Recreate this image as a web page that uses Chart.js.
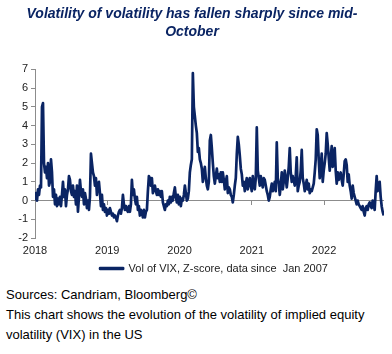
<!DOCTYPE html>
<html>
<head>
<meta charset="utf-8">
<script src="https://cdn.jsdelivr.net/npm/chart.js@4.4.0/dist/chart.umd.min.js"></script>
<style>
  body { margin: 0; background: #fff; font-family: "Liberation Sans", Arial, sans-serif; }
  #wrap { position: relative; width: 392px; height: 282px; }
  .notes { font-size: 13px; line-height: 20px; color: #000; padding-left: 6px; margin-top: 3px; }
</style>
</head>
<body>
<div id="wrap"><canvas id="vixChart"></canvas></div>
<div class="notes">Sources: Candriam, Bloomberg©<br>This chart shows the evolution of the volatility of implied equity<br>volatility (VIX) in the US</div>
<script>
// sampling of the series
const startYear = 2018;
const stepDays = 5.05;
const endYear = 2022.83;

// Z-score of the vol of VIX, one reading every stepDays from Jan 2018
const volOfVix = [
  0.4, 0.1, 0.0, 0.6, 0.3, 0.8, 0.7, 5.0, 5.2, 2.0,
  1.5, 1.8, 1.2, 2.0, 0.8, 1.0, 2.2, 1.5, 0.2, 0.6,
  -0.2, 0.3, -0.3, 0.1, -0.2, 0.2, -0.3, 0.3, 1.0, 0.2,
  0.6, -0.3, 0.3, 0.6, 1.3, 1.1, 0.5, 0.3, 0.8, 0.2,
  0.5, -0.2, 0.8, -0.6, 0.2, 1.1, 0.5, 0.2, 0.6, -0.2,
  0.4, 0.1, -0.4, 0.0, -0.5, 0.2, 2.5, 2.0, 1.5, 1.3,
  0.8, 1.2, 0.3, 0.9, 1.0, 0.4, -0.3, 0.3, -0.5, -0.2,
  -0.6, -0.4, -0.8, -0.5, -0.7, -0.4, -0.6, -0.8, -0.7, -0.9,
  -0.8, -0.9, -1.1, -0.8, -0.6, -0.5, -0.7, -0.4, 0.3, -0.2,
  -0.5, -0.3, -0.5, -0.6, -0.3, -0.6, -0.2, 1.1, 0.3, 0.6,
  0.1, -0.2, 0.2, -0.5, -0.3, -0.8, -0.5, -0.6, -0.9, -0.5,
  -0.9, -0.6, -0.5, 0.5, 1.3, 1.2, 0.8, 1.2, 0.4, 0.6,
  0.8, 0.5, 0.3, 0.6, 0.3, 0.5, 0.2, 0.5, -0.1, -0.3,
  -0.5, -0.2, -0.3, 0.0, -0.2, 0.2, -0.1, 0.2, 0.0, 0.4,
  0.7, 0.2, -0.1, 0.3, -0.2, 0.2, -0.3, 0.1, 0.0, 0.3,
  0.8, 0.4, 0.0, 0.1, 0.5, 1.5, 1.9, 2.2, 6.8, 5.0,
  4.5, 4.0, 3.6, 2.6, 2.8, 2.2, 2.0, 1.7, 1.0, 1.4,
  1.8, 1.2, 0.8, 0.6, 1.0, 3.2, 3.5, 2.8, 2.0, 1.3,
  0.9, 1.3, 1.7, 1.2, 1.4, 1.0, 1.5, 1.0, 1.5, 1.1,
  0.6, 1.0, 1.3, 0.4, 0.7, 0.6, 0.3, 0.2, -0.1, 0.3,
  0.8, 1.2, 2.5, 3.4, 3.0, 2.4, 1.7, 1.4, 0.8, 1.0,
  0.5, 0.9, 1.2, 0.6, 0.9, 1.2, 0.8, 0.5, 1.3, 0.9,
  0.6, 1.2, 3.9, 1.6, 1.2, 0.8, 1.3, 1.0, 0.7, 1.2,
  1.1, 0.8, 0.5, 0.3, 0.0, 0.2, 0.6, 0.9, 0.5, 0.7,
  1.0, 0.5, 3.1, 1.2, 0.9, 0.3, 0.8, 1.5, 0.6, 1.0,
  1.6, 1.2, 0.7, 1.2, 1.8, 2.8, 1.5, 1.0, 1.3, 1.1,
  0.8, 1.3, 2.3, 0.5, 0.8, 1.0, 1.6, 2.7, 1.2, 0.9,
  0.5, 0.8, 1.1, 0.6, 0.9, 0.4, 0.6, 0.5, 0.7, 0.9,
  1.5, 2.2, 3.8, 3.5, 2.2, 1.2, 1.8, 2.5, 1.0, 1.6,
  2.0, 2.5, 3.6, 3.0, 2.3, 1.6, 2.3, 2.9, 1.8, 2.2,
  2.8, 1.6, 0.9, 1.5, 1.1, 1.3, 1.5, 1.1, 0.8, 1.4,
  2.1, 2.2, 1.9, 1.0, 1.4, 0.8, 0.5, 0.1, 0.8, 0.4,
  0.2, 0.0, -0.2, 0.0, -0.2, -0.3, -0.4, -0.5, -0.3, -0.6,
  -0.8, -0.4, -0.3, -0.5, -0.2, -0.1, -0.3, -0.4, 0.0, -0.2,
  -0.5, 0.5, 1.3, 0.5, 0.9, 1.0, 0.2, -0.3, -0.6, -0.8
];

const yearTicks = [2018, 2019, 2020, 2021, 2022];
const zTicks = [-2, -1, 0, 1, 2, 3, 4, 5, 6, 7];

const navy = '#0a2463';
const axisGrey = '#8c8c8c';
const fontFamily = '"Liberation Sans", Arial, sans-serif';

const points = volOfVix.map((v, i) => ({ x: startYear + i * stepDays / 365.25, y: v }));

// legend sits a bit right of centre in the original
const nudgeLegend = {
  id: 'nudgeLegend',
  afterLayout(chart) {
    chart.legend.left += 22;
    chart.legend.right += 22;
    chart.legend.top += 2;
    chart.legend.bottom += 2;
  }
};

new Chart(document.getElementById('vixChart'), {
  type: 'line',
  data: {
    datasets: [{
      label: 'Vol of VIX, Z-score, data since  Jan 2007',
      data: points,
      borderColor: navy,
      backgroundColor: navy,
      borderWidth: 2.7,
      borderJoinStyle: 'round',
      pointRadius: 0,
      tension: 0
    }]
  },
  options: {
    responsive: true,
    maintainAspectRatio: false,
    animation: false,
    layout: { padding: { left: 0, right: 8, bottom: 0 } },
    plugins: {
      title: {
        display: true,
        text: ['Volatility of volatility has fallen sharply since mid-', 'October'],
        color: navy,
        font: { family: fontFamily, size: 14, weight: 'bold', style: 'italic', lineHeight: 1.3 },
        padding: { top: 5, bottom: 28 }
      },
      legend: {
        position: 'bottom',
        labels: {
          color: '#222',
          font: { family: fontFamily, size: 11 },
          boxWidth: 23,
          boxHeight: 1,
          padding: 2
        }
      },
      tooltip: { enabled: false }
    },
    scales: {
      x: {
        type: 'linear',
        min: startYear,
        max: endYear,
        afterBuildTicks: s => { s.ticks = yearTicks.map(v => ({ value: v })); },
        afterFit: s => { s.height = 21; },
        ticks: { color: '#222', font: { family: fontFamily, size: 11 }, padding: -2, callback: v => String(v) },
        grid: { display: false },
        border: { display: false }
      },
      xZero: {
        axis: 'x',
        type: 'linear',
        position: { y: 0 },
        min: startYear,
        max: endYear,
        afterBuildTicks: s => { s.ticks = yearTicks.map(v => ({ value: v })); },
        ticks: { display: false },
        grid: { drawOnChartArea: false, color: axisGrey, tickLength: 4 },
        border: { display: false }
      },
      y: {
        min: -2,
        max: 7,
        afterBuildTicks: s => { s.ticks = zTicks.map(v => ({ value: v })); },
        afterFit: s => { s.width = 35; },
        ticks: { color: '#222', font: { family: fontFamily, size: 11 }, padding: 3 },
        grid: {
          color: c => (c.tick && c.tick.value === 0 ? axisGrey : 'rgba(0,0,0,0)'),
          tickColor: axisGrey,
          tickLength: 4
        },
        border: { display: true, color: axisGrey }
      }
    }
  },
  plugins: [nudgeLegend]
});
</script>
</body>
</html>
